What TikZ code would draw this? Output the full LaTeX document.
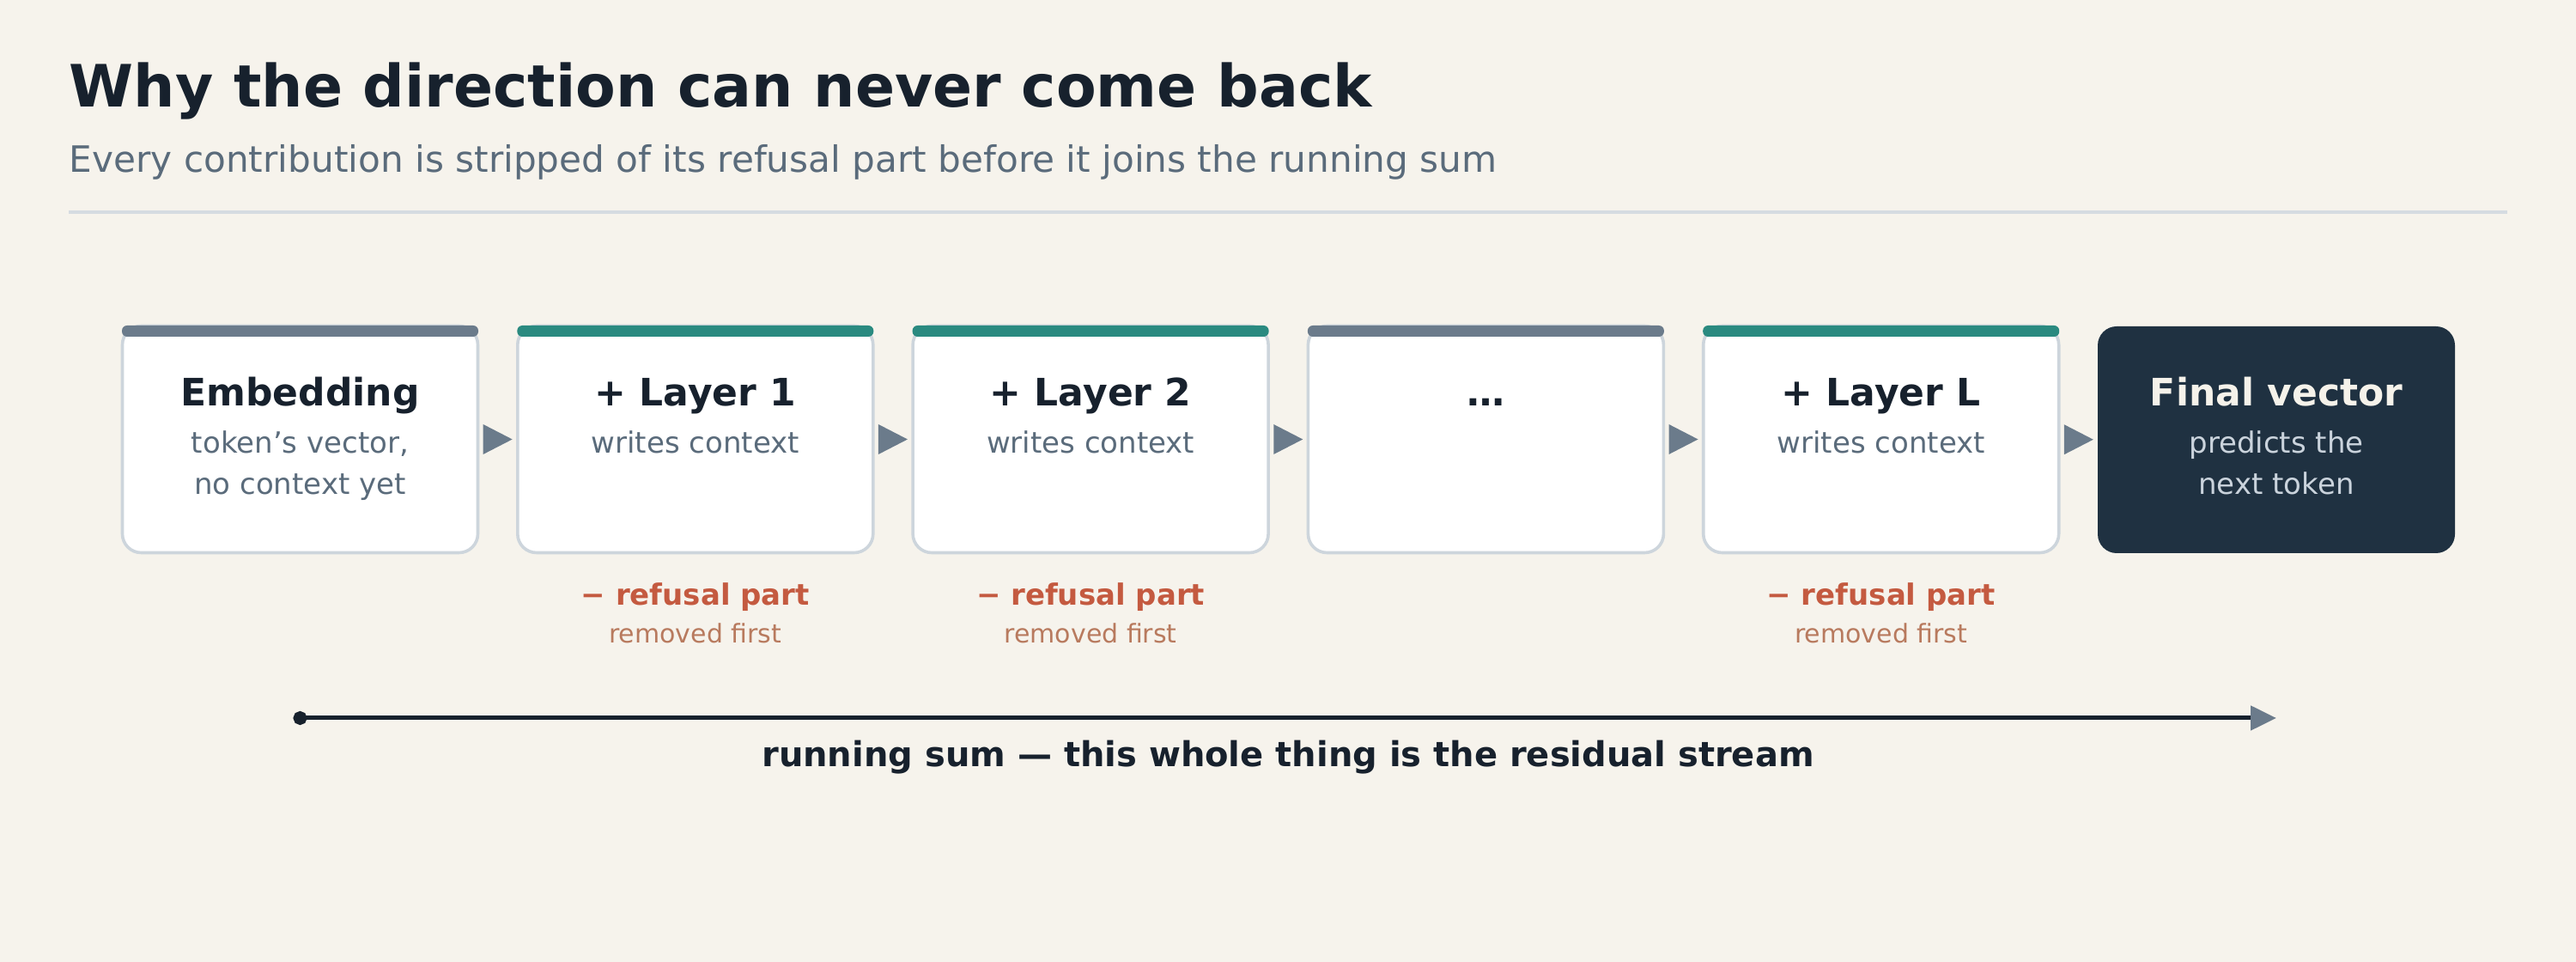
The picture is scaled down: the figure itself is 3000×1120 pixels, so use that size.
\documentclass[tikz,border=0pt]{standalone}
\usepackage{fontspec}
\setmainfont{DejaVu Sans}
\usetikzlibrary{arrows.meta,calc}
\definecolor{bg}{HTML}{F6F3EC}
\definecolor{ink}{HTML}{17212D}
\definecolor{muted}{HTML}{5A6B7B}
\definecolor{rulec}{HTML}{D5DBE1}
\definecolor{boxline}{HTML}{CDD5DC}
\definecolor{slate}{HTML}{6B7B8B}
\definecolor{teal}{HTML}{2A8A80}
\definecolor{finalfill}{HTML}{1F3141}
\definecolor{refusal}{HTML}{C45A40}
\definecolor{removed}{HTML}{B87A5E}
\definecolor{finaltitle}{HTML}{F5F2EA}
\definecolor{finalsub}{HTML}{CAD3DC}
\begin{document}
\begin{tikzpicture}[x=0.25pt,y=-0.25pt,
  stepbox/.style={draw=boxline, line width=0.9pt, fill=white, rounded corners=5.5pt,
    minimum width=103.5pt, minimum height=66pt, inner sep=0pt},
  finalbox/.style={fill=finalfill, rounded corners=5.5pt,
    minimum width=104pt, minimum height=66pt, inner sep=0pt},
  boxtitle/.style={anchor=base, inner sep=0pt, text=ink, font=\fontsize{11pt}{13pt}\selectfont\bfseries},
  boxsub/.style={anchor=base, inner sep=0pt, text=muted, font=\fontsize{8.5pt}{12pt}\selectfont},
  reftitle/.style={anchor=base, inner sep=0pt, text=refusal, font=\fontsize{8.5pt}{10pt}\selectfont\bfseries},
  refsub/.style={anchor=base, inner sep=0pt, text=removed, font=\fontsize{7.5pt}{9pt}\selectfont},
  flowtip/.style={fill=slate}
]
\fill[bg] (0,0) rectangle (3000,1120);
\useasboundingbox (0,0) rectangle (3000,1120);

% heading
\node[anchor=base west, inner sep=0pt, text=ink, font=\fontsize{17pt}{20pt}\selectfont\bfseries] (title) at (80,125) {Why the direction can never come back};
\node[anchor=base west, inner sep=0pt, text=muted, font=\fontsize{10.55pt}{12pt}\selectfont] (subtitle) at (80,201) {Every contribution is stripped of its refusal part before it joins the running sum};
\draw[rulec, line width=1pt] (80,247) -- (2920,247);

% boxes
\foreach \i/\nm/\barc in {0/emb/slate,1/l1/teal,2/l2/teal,3/dots/slate,4/lL/teal} {
  \pgfmathsetmacro\L{141+460.3*\i}
  \node[stepbox] (\nm) at (\L+208.5,511.5) {};
  \fill[\barc, rounded corners=1.5pt] (\L+1,379) rectangle (\L+416,392);
}
\node[finalbox] (fin) at (2651,512) {};

% box texts
\node[boxtitle] (embT) at (emb |- 0,473) {Embedding};
\node[boxsub] (embS1) at (emb |- 0,528) {token’s vector,};
\node[boxsub] (embS2) at (emb |- 0,576) {no context yet};
\node[boxtitle] (l1T) at (l1 |- 0,473) {+ Layer 1};
\node[boxsub] (l1S) at (l1 |- 0,528) {writes context};
\node[boxtitle] (l2T) at (l2 |- 0,473) {+ Layer 2};
\node[boxsub] (l2S) at (l2 |- 0,528) {writes context};
\node[boxtitle] (dotsT) at (dots |- 0,473) {…};
\node[boxtitle] (lLT) at (lL |- 0,473) {+ Layer L};
\node[boxsub] (lLS) at (lL |- 0,528) {writes context};
\node[boxtitle, text=finaltitle] (finT) at (fin |- 0,473) {Final vector};
\node[boxsub, text=finalsub] (finS1) at (fin |- 0,528) {predicts the};
\node[boxsub, text=finalsub] (finS2) at (fin |- 0,576) {next token};

% flow arrows between boxes
\foreach \a/\b in {emb/l1,l1/l2,l2/dots,dots/lL,lL/fin} {
  \coordinate (m) at ($(\a.east)!0.5!(\b.west)$);
  \fill[flowtip] ([xshift=-4.25pt,yshift=4.375pt]m) -- ([xshift=4.25pt]m) -- ([xshift=-4.25pt,yshift=-4.375pt]m) -- cycle;
}

% refusal notes
\foreach \nm in {l1,l2,lL} {
  \node[reftitle] (\nm R) at (\nm |- 0,705) {− refusal part};
  \node[refsub] (\nm Rs) at (\nm |- 0,749) {removed first};
}

% running sum
\coordinate (rs0) at (341.5,836);
\coordinate (rs1) at (fin |- 0,836);
\draw[ink, line width=1.25pt, {Circle[length=4pt]}-{Triangle[length=7.5pt,width=7pt,color=slate,fill=slate]}] (rs0) -- (rs1);
\node[anchor=base, inner sep=0pt, text=ink, font=\fontsize{10pt}{12pt}\selectfont\bfseries] (rslabel) at (1500,893) {running sum — this whole thing is the residual stream};
\end{tikzpicture}
\end{document}
